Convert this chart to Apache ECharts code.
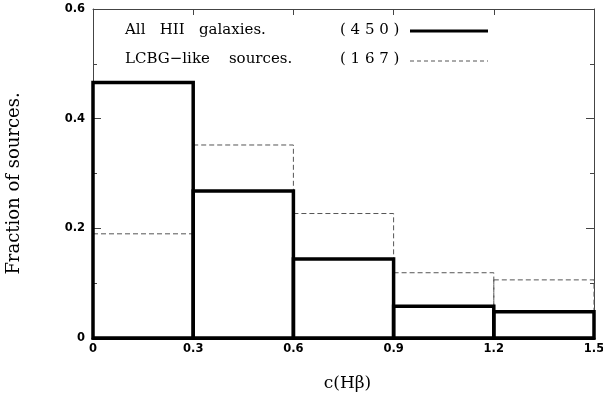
<!DOCTYPE html>
<html>
<head>
<meta charset="utf-8">
<script src="https://cdn.jsdelivr.net/npm/echarts@6/dist/echarts.min.js"></script>
<style>
  html, body { margin: 0; padding: 0; background: #fff; }
  #chart { width: 603px; height: 396px; }
</style>
</head>
<body>
<div id="chart"></div>
<script>
// histogram bins of c(Hbeta)
var binEdges = [0, 0.3, 0.6, 0.9, 1.2, 1.5];
var allHII = [0.466, 0.268, 0.144, 0.058, 0.048];   // All HII galaxies (450)
var lcbg = [0.190, 0.352, 0.227, 0.119, 0.106];     // LCBG-like sources (167)
var xTicks = ['0', '0.3', '0.6', '0.9', '1.2', '1.5'];
var yTicks = ['0', '0.2', '0.4', '0.6'];

function toBins(vals) {
  var out = [];
  for (var i = 0; i < vals.length; i++) {
    out.push([binEdges[i], binEdges[i + 1], vals[i]]);
  }
  return out;
}

function histRender(style) {
  return function (params, api) {
    var p0 = api.coord([api.value(0), api.value(2)]);
    var p1 = api.coord([api.value(1), 0]);
    return {
      type: 'rect',
      shape: { x: p0[0], y: p0[1], width: p1[0] - p0[0], height: p1[1] - p0[1] },
      style: style
    };
  };
}

var serif = '"DejaVu Serif", "Liberation Serif", serif';
var sans = '"DejaVu Sans", sans-serif';
var frame = '#444';

var chart = echarts.init(document.getElementById('chart'));
chart.setOption({
  animation: false,
  grid: { left: 93, right: 9, top: 9, bottom: 58, containLabel: false, outerBoundsMode: 'none' },
  xAxis: [{
    type: 'value', min: 0, max: 1.5, interval: 0.3,
    axisLine: { onZero: false, lineStyle: { color: '#000', width: 3 } },
    axisTick: { show: false },
    axisLabel: {
      color: '#000', fontFamily: sans, fontSize: 11.5, fontWeight: 'bold', margin: 5,
      formatter: function (v) { var i = Math.round(v / 0.3); return xTicks[i]; }
    },
    splitLine: { show: false },
    name: 'c(Hβ)', nameLocation: 'middle', nameGap: 37,
    nameTextStyle: { color: '#000', fontFamily: serif, fontSize: 17, padding: [0, 0, 0, 8] }
  }, {
    type: 'value', min: 0, max: 1.5, interval: 0.3, position: 'top',
    axisLine: { onZero: false, lineStyle: { color: frame, width: 1 } },
    axisTick: { inside: true, length: 6, lineStyle: { color: frame } },
    axisLabel: { show: false },
    splitLine: { show: false }
  }],
  yAxis: [{
    type: 'value', min: 0, max: 0.6, interval: 0.2,
    axisLine: { show: true, onZero: false, lineStyle: { color: frame, width: 1 } },
    axisTick: { inside: true, length: 8, lineStyle: { color: frame } },
    minorTick: { show: true, splitNumber: 2, length: 4, lineStyle: { color: frame } },
    axisLabel: {
      color: '#000', fontFamily: sans, fontSize: 11.5, fontWeight: 'bold', margin: 8,
      formatter: function (v) { var i = Math.round(v / 0.2); return yTicks[i]; }
    },
    splitLine: { show: false },
    name: 'Fraction of sources.', nameLocation: 'middle', nameGap: 70,
    nameTextStyle: { color: '#000', fontFamily: serif, fontSize: 18, padding: [0, 20, 0, 0] }
  }, {
    type: 'value', min: 0, max: 0.6, interval: 0.2, position: 'right',
    axisLine: { show: true, onZero: false, lineStyle: { color: frame, width: 1 } },
    axisTick: { inside: true, length: 8, lineStyle: { color: frame } },
    minorTick: { show: true, splitNumber: 2, length: 4, lineStyle: { color: frame } },
    axisLabel: { show: false },
    splitLine: { show: false }
  }],
  series: [{
    type: 'custom', name: 'LCBG-like sources.',
    data: toBins(lcbg),
    renderItem: histRender({ fill: null, stroke: '#555', lineWidth: 1, lineDash: [5, 3] }),
    z: 2
  }, {
    type: 'custom', name: 'All HII galaxies.',
    data: toBins(allHII),
    renderItem: histRender({ fill: null, stroke: '#000', lineWidth: 3.5 }),
    z: 3
  }],
  graphic: [
    { type: 'text', left: 125, top: 23, style: { text: 'All   HII   galaxies.', font: '15px ' + serif, fill: '#000' } },
    { type: 'text', left: 340, top: 23, style: { text: '( 4 5 0 )', font: '15px ' + serif, fill: '#000' } },
    { type: 'line', shape: { x1: 410, y1: 31, x2: 488, y2: 31 }, style: { stroke: '#000', lineWidth: 3 } },
    { type: 'text', left: 125, top: 52, style: { text: 'LCBG\u2212like    sources.', font: '15px ' + serif, fill: '#000' } },
    { type: 'text', left: 340, top: 52, style: { text: '( 1 6 7 )', font: '15px ' + serif, fill: '#000' } },
    { type: 'line', shape: { x1: 410, y1: 61, x2: 488, y2: 61 }, style: { stroke: '#555', lineWidth: 1, lineDash: [4, 3] } }
  ]
});
</script>
</body>
</html>
